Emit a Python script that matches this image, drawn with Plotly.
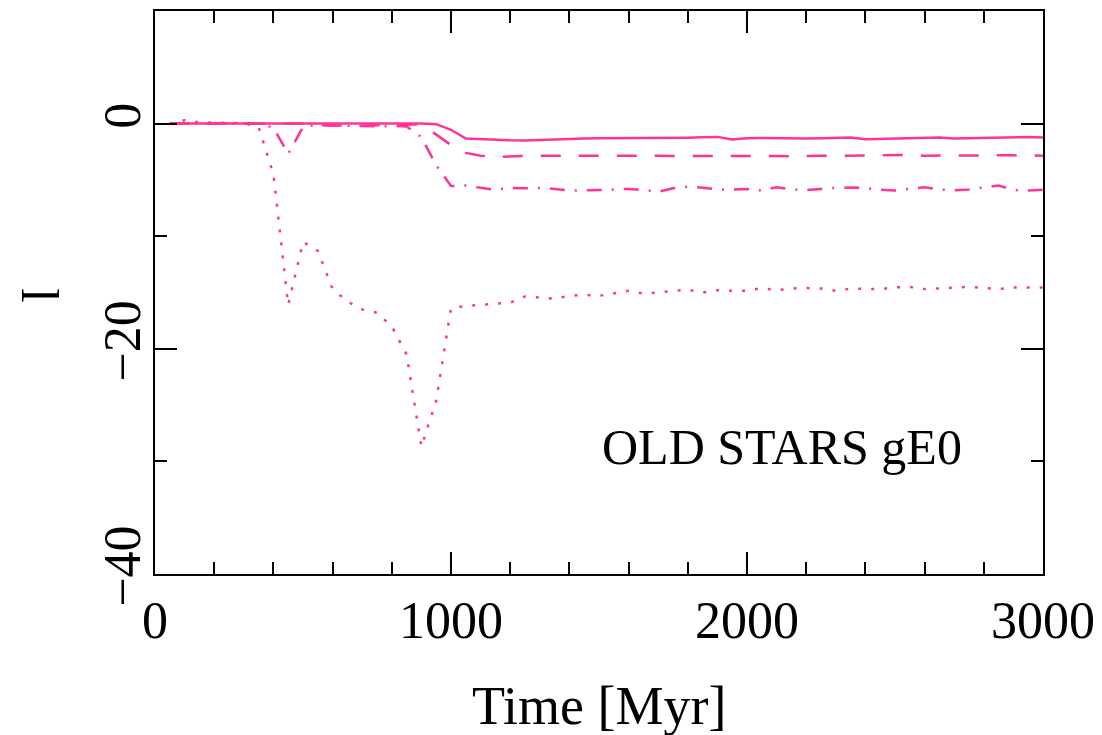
import plotly.graph_objects as go

# Time grid of the snapshots [Myr]
time_myr = [50, 100, 150, 200, 250, 300, 350, 400, 450, 500,
            550, 600, 650, 700, 750, 800, 850, 900, 950, 1000,
            1050, 1100, 1150, 1200, 1250, 1300, 1350, 1400, 1450, 1500,
            1550, 1600, 1650, 1700, 1750, 1800, 1850, 1900, 1950, 2000,
            2050, 2100, 2150, 2200, 2250, 2300, 2350, 2400, 2450, 2500,
            2550, 2600, 2650, 2700, 2750, 2800, 2850, 2900, 2950, 3000]

# l for the four shells of old stars
l_solid = [0, 0, 0, 0, 0, 0, 0, 0, 0, 0,
           0.05, 0.05, 0, 0, 0, 0.05, 0, 0, -0.05, -0.55,
           -1.33, -1.4, -1.45, -1.48, -1.5, -1.45, -1.38, -1.33, -1.32, -1.3,
           -1.3, -1.27, -1.28, -1.3, -1.27, -1.25, -1.22, -1.18, -1.42, -1.3,
           -1.27, -1.3, -1.33, -1.33, -1.3, -1.26, -1.24, -1.4, -1.36, -1.33,
           -1.3, -1.28, -1.24, -1.33, -1.3, -1.27, -1.24, -1.18, -1.2, -1.24]

l_dashed = [0, 0, 0, 0, 0, 0, 0, 0, 0, 0,
            -0.1, -0.2, -0.15, -0.2, -0.15, -0.15, -0.1, -0.05, -1.0, -1.9,
            -2.6, -2.85, -2.97, -2.9, -2.88, -2.85, -2.85, -2.85, -2.85, -2.84,
            -2.83, -2.82, -2.82, -2.87, -2.88, -2.86, -2.83, -2.82, -2.82, -2.83,
            -2.84, -2.88, -2.9, -2.85, -2.86, -2.86, -2.85, -2.84, -2.8, -2.78,
            -2.78, -2.85, -2.82, -2.83, -2.84, -2.8, -2.8, -2.82, -2.84, -2.85]

l_dashdot = [0, 0, 0, 0, 0, 0, 0, -0.35, -2.7, -0.3,
             -0.1, -0.15, -0.2, -0.2, -0.25, -0.2, -0.25, -1.2, -3.7, -5.55,
             -5.5, -5.7, -5.87, -5.7, -5.75, -5.72, -5.8, -5.95, -5.95, -5.9,
             -5.85, -5.8, -5.9, -6.05, -5.75, -5.6, -5.7, -5.85, -5.85, -5.8,
             -5.95, -5.65, -5.85, -5.9, -5.8, -5.7, -5.68, -5.72, -5.87, -5.95,
             -5.78, -5.66, -5.85, -5.92, -5.85, -5.65, -5.5, -5.9, -5.95, -5.87]

l_dotted = [0, 0.3, 0.1, 0.1, 0.1, 0.05, -0.3, -4.5, -16.1, -10.5,
            -11.3, -14.7, -15.8, -16.5, -16.8, -18.0, -20.5, -28.7, -24.6, -16.4,
            -16.2, -16.1, -15.95, -15.9, -15.35, -15.45, -15.55, -15.3, -15.2, -15.3,
            -15.1, -14.85, -15.1, -15.0, -14.9, -14.75, -15.0, -14.8, -14.85, -14.85,
            -14.6, -14.8, -14.65, -14.6, -14.65, -14.85, -14.65, -14.65, -14.7, -14.55,
            -14.5, -14.7, -14.65, -14.6, -14.5, -14.6, -14.7, -14.55, -14.55, -14.55]

PINK = "#ff3399"
FONT = "Liberation Serif"

fig = go.Figure()
series = [
    (l_solid, "solid"),
    (l_dashed, "20px,18px"),
    (l_dashdot, "15px,10px,2px,10px"),
    (l_dotted, "3px,10px"),
]
for values, dash in series:
    fig.add_trace(go.Scatter(
        x=time_myr, y=values, mode="lines",
        line=dict(color=PINK, width=2.5, dash=dash),
        showlegend=False, hoverinfo="skip",
    ))

axis_common = dict(
    showline=True, linecolor="black", linewidth=2,
    mirror="ticks", ticks="inside", tickcolor="black", tickwidth=2,
    ticklen=22, showgrid=False, zeroline=False,
    tickfont=dict(family=FONT, size=52, color="black"),
)

fig.update_xaxes(
    range=[0, 3000], tick0=0, dtick=1000,
    minor=dict(dtick=200, ticks="inside", ticklen=12, tickwidth=2, tickcolor="black"),
    **axis_common,
)
fig.update_yaxes(
    range=[-40, 10], tick0=0, dtick=20, tickangle=-90, ticklabelstandoff=-8,
    minor=dict(dtick=10, ticks="inside", ticklen=12, tickwidth=2, tickcolor="black"),
    **axis_common,
)

fig.add_annotation(
    text="Time [Myr]", xref="paper", yref="paper", x=0.5, y=-0.292,
    xanchor="center", yanchor="bottom", showarrow=False,
    font=dict(family=FONT, size=54, color="black"),
)
fig.add_annotation(
    text="l", xref="paper", yref="paper", x=-0.13, y=0.496,
    xanchor="center", yanchor="middle", textangle=90, showarrow=False,
    font=dict(family=FONT, size=52, color="black"),
)
fig.add_annotation(
    text="OLD STARS gE0", x=1503, y=-28.7,
    xanchor="left", yanchor="middle", showarrow=False,
    font=dict(family=FONT, size=50, color="black"),
)

fig.update_layout(
    width=1102, height=735,
    margin=dict(l=155, r=59, t=11, b=161, autoexpand=False),
    paper_bgcolor="white", plot_bgcolor="white",
)

fig.write_html("out.html")
